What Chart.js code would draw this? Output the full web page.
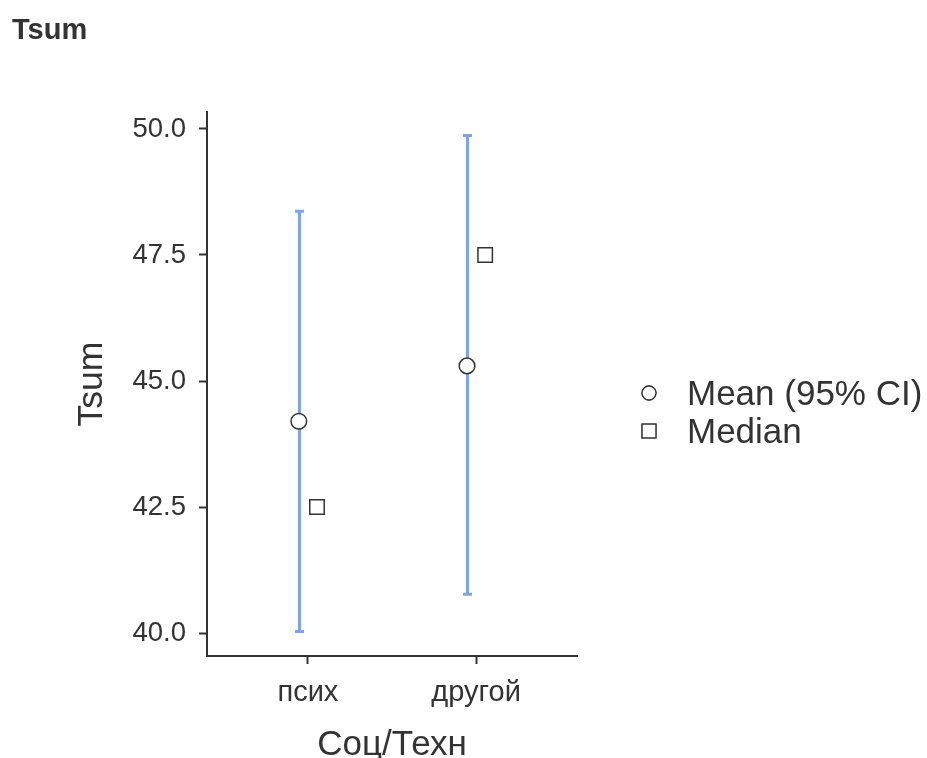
<!DOCTYPE html>
<html>
<head>
<meta charset="utf-8">
<script src="https://cdn.jsdelivr.net/npm/chart.js@4"></script>
<style>
  html, body { margin: 0; padding: 0; background: #fff; }
  #wrap { width: 927px; height: 758px; position: relative; }
</style>
</head>
<body>
<div id="wrap"><canvas id="plot"></canvas></div>
<script>
const categories = ['псих', 'другой'];
const means = [44.2, 45.3];
const ciLower = [40.03, 40.77];
const ciUpper = [48.37, 49.87];
const medians = [42.5, 47.5];
const yTicks = [40.0, 42.5, 45.0, 47.5, 50.0];

const ink = '#333333';
const barColor = '#7ba7e9';
const font = "'Liberation Sans', Arial, Helvetica, sans-serif";
const dodge = 0.054; // mean drawn left of the category, median right

// vertical 95% CI lines with small caps, behind the points
const errorBars = {
  id: 'errorBars',
  beforeDatasetsDraw(chart) {
    const { ctx, scales: { x, y } } = chart;
    ctx.save();
    ctx.strokeStyle = barColor;
    ctx.lineCap = 'butt';
    categories.forEach((c, i) => {
      const px = Math.round(x.getPixelForValue(i + 1 - dodge)) + 0.5;
      const top = y.getPixelForValue(ciUpper[i]);
      const bot = y.getPixelForValue(ciLower[i]);
      ctx.lineWidth = 3.2;
      ctx.beginPath();
      ctx.moveTo(px, top);
      ctx.lineTo(px, bot);
      ctx.stroke();
      ctx.lineWidth = 3;
      ctx.beginPath();
      ctx.moveTo(px - 4.5, top);
      ctx.lineTo(px + 4.5, top);
      ctx.moveTo(px - 4.5, bot);
      ctx.lineTo(px + 4.5, bot);
      ctx.stroke();
    });
    ctx.restore();
  }
};

// plot heading and the legend on the right
const decorations = {
  id: 'decorations',
  afterDraw(chart) {
    const { ctx } = chart;
    ctx.save();
    ctx.fillStyle = ink;
    ctx.font = `bold 29px ${font}`;
    ctx.textBaseline = 'alphabetic';
    ctx.textAlign = 'left';
    ctx.fillText('Tsum', 12, 39);

    const rows = [393, 431];
    chart.data.datasets.forEach((ds, i) => {
      const cy = rows[i];
      Chart.helpers.drawPoint(ctx, {
        pointStyle: ds.pointStyle,
        radius: ds.pointStyle === 'rect' ? 9.8 : 7,
        borderWidth: 1.3
      }, 649, cy);
      ctx.fillStyle = '#fff';
      ctx.strokeStyle = ink;
      ctx.lineWidth = 1.3;
      ctx.fill();
      ctx.stroke();
      ctx.fillStyle = ink;
      ctx.font = `35px ${font}`;
      ctx.fillText(ds.label, 687, cy + 12);
    });
    ctx.restore();
  }
};

new Chart(document.getElementById('plot'), {
  type: 'scatter',
  data: {
    datasets: [
      {
        label: 'Mean (95% CI)',
        data: means.map((m, i) => ({ x: i + 1 - dodge, y: m })),
        pointStyle: 'circle',
        pointRadius: 7.8,
        pointBorderWidth: 1.5,
        pointBorderColor: ink,
        pointBackgroundColor: '#fff'
      },
      {
        label: 'Median',
        data: medians.map((m, i) => ({ x: i + 1 + dodge, y: m })),
        pointStyle: 'rect',
        pointRadius: 10.2,
        pointBorderWidth: 1.5,
        pointBorderColor: ink,
        pointBackgroundColor: '#fff'
      }
    ]
  },
  options: {
    responsive: true,
    maintainAspectRatio: false,
    animation: false,
    layout: { padding: { left: 59, top: 112, right: 350, bottom: 0 } },
    plugins: {
      legend: { display: false },
      tooltip: { enabled: false }
    },
    scales: {
      x: {
        type: 'linear',
        min: 0.4,
        max: 2.6,
        afterBuildTicks: axis => { axis.ticks = categories.map((c, i) => ({ value: i + 1 })); },
        afterFit: axis => { axis.height = 102; },
        ticks: {
          autoSkip: false,
          color: ink,
          padding: 12,
          font: { family: font, size: 29 },
          callback: v => categories[v - 1]
        },
        grid: { display: true, drawOnChartArea: false, tickLength: 8, tickWidth: 2, tickColor: ink },
        border: { display: true, color: ink, width: 2 },
        title: {
          display: true,
          text: 'Соц/Техн',
          color: ink,
          font: { family: font, size: 35, lineHeight: 0.72 },
          padding: { top: 0, bottom: 0 }
        }
      },
      y: {
        min: 39.544,
        max: 50.337,
        afterBuildTicks: axis => { axis.ticks = yTicks.map(v => ({ value: v })); },
        afterFit: axis => { axis.width = 148; },
        ticks: {
          color: ink,
          padding: 13,
          font: { family: font, size: 27.5 },
          callback: v => v.toFixed(1)
        },
        grid: { display: true, drawOnChartArea: false, tickLength: 8, tickWidth: 2, tickColor: ink },
        border: { display: true, color: ink, width: 2 },
        title: {
          display: true,
          text: 'Tsum',
          color: ink,
          font: { family: font, size: 35.5, lineHeight: 1 },
          padding: { top: 15, bottom: 0 }
        }
      }
    }
  },
  plugins: [errorBars, decorations]
});
</script>
</body>
</html>
